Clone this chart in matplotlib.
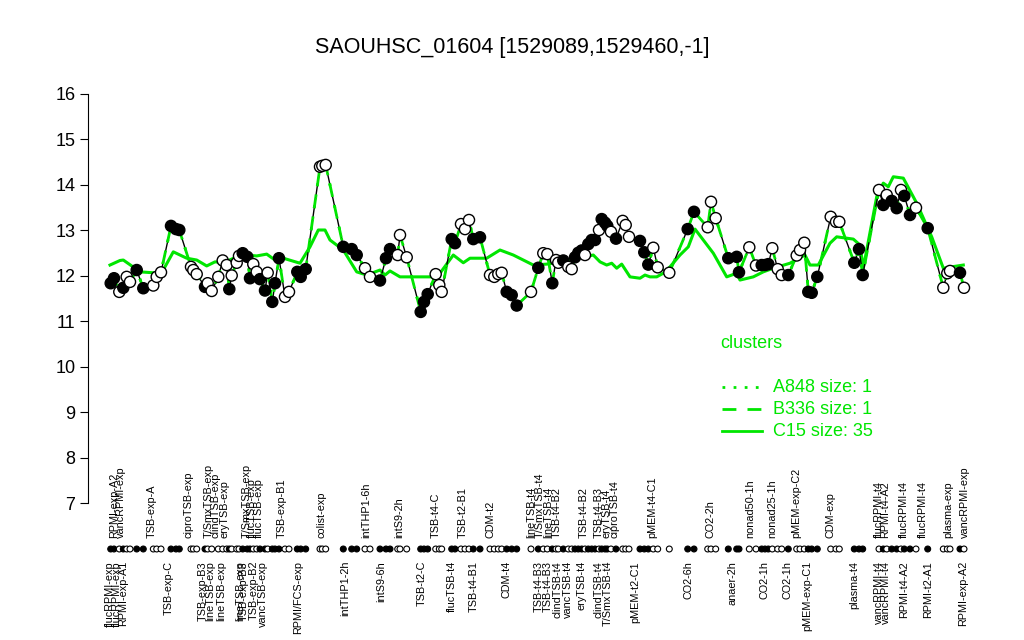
import matplotlib
matplotlib.use("Agg")
import matplotlib.pyplot as plt
from matplotlib.lines import Line2D

plt.rcParams['font.family'] = ['Liberation Sans', 'DejaVu Sans']

title = "SAOUHSC_01604 [1529089,1529460,-1]"

# sample positions along the x axis (condition order), expression values, filled marker flag
sample_pos = [110.7, 114.0, 119.3, 123.3, 126.7, 130.0, 136.7, 143.3, 153.3, 156.7,
              161.0, 171.0, 176.0, 179.3, 191.0, 193.3, 196.7, 205.0, 207.7, 211.7,
              218.3, 222.7, 226.7, 229.3, 231.7, 236.7, 239.0, 242.7, 247.3, 250.0,
              253.3, 256.7, 260.0, 265.0, 267.7, 272.3, 275.0, 279.0, 285.0, 289.0,
              297.3, 300.7, 305.7, 320.0, 322.3, 325.7, 343.3, 351.7, 356.7, 365.0,
              370.0, 380.0, 386.0, 390.0, 397.7, 400.0, 406.7, 420.7, 424.0, 427.7,
              435.7, 439.3, 441.7, 451.7, 455.0, 461.0, 465.0, 469.0, 473.3, 480.0,
              490.0, 494.3, 498.3, 501.7, 506.7, 511.7, 516.7, 531.0, 538.3, 543.3,
              547.3, 552.3, 556.0, 558.3, 563.3, 568.3, 571.7, 575.0, 578.3, 581.7,
              585.0, 588.3, 591.7, 595.0, 599.0, 601.7, 605.0, 607.3, 611.0, 616.0,
              622.7, 625.7, 629.0, 640.0, 644.3, 648.3, 653.3, 657.7, 669.3, 687.7,
              694.0, 707.7, 711.0, 715.7, 728.3, 736.7, 739.0, 749.3, 756.0, 761.7,
              765.0, 768.3, 772.3, 777.7, 781.7, 788.3, 796.7, 800.0, 804.3, 808.3,
              811.7, 817.3, 830.7, 836.0, 839.3, 854.3, 859.0, 862.7, 879.0, 883.3,
              886.7, 891.7, 896.7, 901.0, 904.3, 910.0, 916.0, 927.7, 943.3, 947.3,
              950.0, 960.0, 964.0]
values = [11.83, 11.94, 11.64, 11.73, 11.97, 11.86, 12.12, 11.72, 11.78, 11.97,
          12.07, 13.09, 13.02, 13.00, 12.19, 12.12, 12.03, 11.75, 11.83, 11.66,
          11.97, 12.33, 12.23, 11.70, 12.00, 12.28, 12.43, 12.49, 12.41, 11.94,
          12.25, 12.08, 11.92, 11.67, 12.06, 11.42, 11.83, 12.38, 11.53, 11.64,
          12.08, 11.97, 12.14, 14.39, 14.41, 14.43, 12.63, 12.58, 12.45, 12.16,
          11.97, 11.89, 12.38, 12.58, 12.45, 12.89, 12.40, 11.20, 11.42, 11.59,
          12.03, 11.79, 11.64, 12.80, 12.71, 13.13, 13.02, 13.22, 12.80, 12.84,
          12.01, 11.97, 12.03, 12.06, 11.64, 11.57, 11.34, 11.64, 12.17, 12.49,
          12.47, 11.83, 12.34, 12.28, 12.33, 12.19, 12.14, 12.40, 12.50, 12.55,
          12.45, 12.69, 12.78, 12.78, 13.00, 13.24, 13.16, 13.09, 12.96, 12.81,
          13.20, 13.11, 12.85, 12.76, 12.51, 12.24, 12.61, 12.18, 12.06, 13.02,
          13.40, 13.06, 13.62, 13.26, 12.38, 12.41, 12.07, 12.62, 12.22, 12.23,
          12.23, 12.25, 12.60, 12.14, 12.01, 12.01, 12.44, 12.56, 12.72, 11.64,
          11.62, 11.97, 13.29, 13.18, 13.18, 12.28, 12.58, 12.01, 13.88, 13.55,
          13.77, 13.64, 13.48, 13.88, 13.75, 13.33, 13.49, 13.04, 11.73, 12.05,
          12.10, 12.06, 11.73]
filled = [1, 1, 0, 1, 0, 0, 1, 1, 0, 0,
          0, 1, 1, 1, 0, 0, 0, 1, 0, 0,
          0, 0, 0, 1, 0, 0, 0, 1, 1, 1,
          0, 0, 1, 1, 0, 1, 1, 1, 0, 0,
          1, 1, 1, 0, 0, 0, 1, 1, 1, 0,
          0, 1, 1, 1, 0, 0, 0, 1, 1, 1,
          0, 0, 0, 1, 1, 0, 0, 0, 1, 1,
          0, 0, 0, 0, 1, 1, 1, 0, 1, 0,
          0, 1, 0, 0, 1, 0, 0, 1, 1, 1,
          0, 1, 1, 1, 0, 1, 1, 1, 0, 1,
          0, 0, 0, 1, 1, 1, 0, 0, 0, 1,
          1, 0, 0, 0, 1, 1, 1, 0, 0, 1,
          1, 1, 0, 0, 0, 1, 0, 0, 0, 1,
          1, 1, 0, 0, 0, 1, 1, 1, 0, 1,
          0, 1, 1, 0, 1, 1, 0, 1, 0, 0,
          0, 1, 0]

# cluster C15 mean profile
mean_pos = [110.0, 115.0, 120.0, 123.3, 131.7, 140.0, 153.3, 161.7, 173.3, 186.7,
            196.7, 206.7, 215.0, 223.3, 236.7, 246.7, 256.7, 266.7, 275.0, 283.3,
            300.0, 310.0, 318.3, 325.0, 330.0, 343.3, 356.7, 366.7, 380.0, 385.0,
            390.0, 400.0, 433.3, 440.0, 453.3, 463.3, 470.0, 486.7, 500.0, 513.3,
            533.3, 546.7, 560.0, 570.0, 593.3, 600.0, 606.7, 611.7, 616.7, 621.7,
            630.0, 640.0, 645.0, 650.0, 656.7, 663.3, 670.0, 680.0, 688.3, 695.0,
            713.3, 726.7, 736.7, 740.0, 753.3, 763.3, 773.3, 790.0, 805.0, 810.0,
            818.3, 830.0, 836.7, 853.3, 860.0, 863.3, 876.7, 883.3, 888.3, 893.3,
            903.3, 916.7, 931.7, 943.3, 951.7, 963.3]
mean_vals = [12.23, 12.28, 12.33, 12.34, 12.21, 12.08, 12.06, 12.06, 12.52, 12.38,
             12.34, 12.21, 12.30, 12.28, 12.41, 12.45, 12.43, 12.47, 12.34, 12.38,
             12.27, 12.63, 13.00, 13.00, 12.78, 12.56, 12.08, 12.01, 12.12, 12.01,
             12.10, 11.97, 11.97, 12.05, 12.45, 12.28, 12.38, 12.38, 12.56, 12.45,
             12.23, 12.25, 12.30, 12.34, 12.45, 12.30, 12.23, 12.27, 12.16, 12.25,
             11.97, 11.94, 12.01, 11.97, 11.97, 12.05, 12.19, 12.45, 12.63, 13.02,
             12.49, 11.97, 12.05, 11.90, 11.97, 12.08, 12.16, 12.27, 12.45, 12.23,
             12.23, 12.71, 12.85, 12.80, 12.67, 12.16, 13.73, 14.03, 13.95, 14.17,
             14.14, 13.59, 12.85, 12.16, 12.19, 12.23]

top_labels = ["RPMI-exp-A2", "vancRPMI-exp", "TSB-exp-A", "ciproTSB-exp", "T/SmxTSB-exp",
              "clindTSB-exp", "eryTSB-exp", "T/SmxTSB-exp", "flucTSB-exp", "flucTSB-exp",
              "TSB-exp-B1", "colist-exp", "intTHP1-6h", "intS9-2h", "TSB-t4-C",
              "TSB-t2-B1", "CDM-t2", "lineTSB-t4", "T/SmxTSB-t4", "lineTSB-t4",
              "TSB-t4-B2", "TSB-t4-B2", "TSB-t4-B3", "eryTSB-t4", "ciproTSB-t4",
              "pMEM-t4-C1", "CO2-2h", "nonad50-1h", "nonad25-1h", "pMEM-exp-C2",
              "CDM-exp", "flucRPMI-t4", "RPMI-t4-A2", "flucRPMI-t4", "flucRPMI-t4",
              "plasma-exp", "vancRPMI-exp"]
top_label_pos = [114.0, 120.7, 152.0, 189.0, 208.3,
                 215.5, 224.0, 246.7, 252.0, 259.0,
                 282.0, 321.7, 366.0, 399.3, 436.0,
                 462.7, 490.7, 531.7, 539.3, 548.3,
                 556.7, 583.3, 598.3, 606.7, 615.0,
                 652.0, 710.0, 750.0, 772.7, 796.7,
                 830.7, 879.0, 885.0, 904.0, 922.7,
                 948.3, 965.0]
bottom_labels = ["flucRPMI-exp", "flucRPMI-exp", "RPMI-exp-A1", "TSB-exp-C", "TSB-exp-B3",
                 "lineTSB-exp", "lineTSB-exp", "lineTSB-exp", "TSB-exp-B3", "TSB-exp-B2",
                 "vancTSB-exp", "RPMI/FCS-exp", "intTHP1-2h", "intS9-6h", "TSB-t2-C",
                 "flucTSB-t4", "TSB-t4-B1", "CDM-t4", "TSB-t4-B3", "TSB-t4-B3",
                 "clindTSB-t4", "vancTSB-t4", "eryTSB-t4", "clindTSB-t4", "T/SmxTSB-t4",
                 "pMEM-t2-C1", "CO2-6h", "anaer-2h", "CO2-1h", "CO2-1h",
                 "pMEM-exp-C1", "plasma-t4", "vancRPMI-t4", "vancRPMI-t4", "RPMI-t4-A2",
                 "RPMI-t2-A1", "RPMI-exp-A2"]
bottom_label_pos = [110.0, 116.7, 123.3, 169.0, 203.0,
                    210.0, 221.0, 240.0, 243.5, 253.3,
                    263.0, 298.0, 345.0, 381.0, 421.7,
                    451.7, 474.0, 507.0, 538.3, 547.5,
                    557.3, 568.3, 581.7, 598.0, 607.5,
                    635.0, 688.3, 732.7, 764.7, 787.5,
                    807.0, 854.0, 879.0, 885.5, 904.0,
                    927.7, 963.3]

yticks = [7, 8, 9, 10, 11, 12, 13, 14, 15, 16]

legend_title = "clusters"
legend_labels = ["A848 size: 1", "B336 size: 1", "C15 size: 35"]

GREEN = "#00e600"
W, H = 1024, 640

fig = plt.figure(figsize=(W / 100, H / 100), dpi=100)
ax = fig.add_axes([88 / W, 10 / H, 897 / W, 550 / H])
ax.set_xlim(88, 985)
ax.set_ylim(7 - 127 / 45.5, 7 + 423 / 45.5)

for s in ["top", "right", "bottom"]:
    ax.spines[s].set_visible(False)
ax.spines["left"].set_bounds(7, 16)
ax.spines["left"].set_linewidth(0.8)
ax.set_xticks([])
ax.set_yticks(yticks)
ax.set_yticklabels([str(t) for t in yticks], fontsize=13)
ax.tick_params(axis="y", length=6, width=0.8, pad=3)

# cluster mean
ax.plot(mean_pos, mean_vals, color=GREEN, lw=2.2, zorder=2)
# gene profile with size-1 cluster overlays
ax.plot(sample_pos, values, color="black", lw=1.0, zorder=3)
ax.plot(sample_pos, values, color=GREEN, lw=2.0, ls=(0, (4, 4)), zorder=4)
ax.plot(sample_pos, values, color=GREEN, lw=2.0, ls=(0, (1, 3)), zorder=4)

fc = ["black" if f else "white" for f in filled]
ax.scatter(sample_pos, values, s=64, facecolors=fc, edgecolors="black",
           linewidths=1.0, zorder=5)

# rug of conditions
rug_y = 7 - 46 / 45.5
ax.scatter(sample_pos, [rug_y] * len(sample_pos), s=18, facecolors=fc,
           edgecolors="black", linewidths=0.8, zorder=5, clip_on=False)

top_y = 7 - 35 / 45.5
bot_y = 7 - 58 / 45.5
for lab, x in zip(top_labels, top_label_pos):
    ax.text(x, top_y, lab, rotation=90, ha="center", va="bottom", fontsize=7.8)
for lab, x in zip(bottom_labels, bottom_label_pos):
    ax.text(x, bot_y, lab, rotation=90, ha="center", va="top", fontsize=7.8)

fig.text(512 / W, 1 - 47 / H, title, ha="center", va="center", fontsize=15.5)

# legend (drawn in figure pixel coordinates)
fig.text(720 / W, 1 - 343 / H, legend_title, color=GREEN, fontsize=13,
         ha="left", va="center")
styles = [(0, (1, 3)), (0, (5, 4)), "-"]
ys = [387, 409, 431]
for lab, st, yy in zip(legend_labels, styles, ys):
    fig.add_artist(Line2D([722 / W, 762 / W], [1 - yy / H, 1 - yy / H],
                          color=GREEN, lw=2.0, ls=st, transform=fig.transFigure))
    fig.text(773 / W, 1 - yy / H, lab, color=GREEN, fontsize=13,
             ha="left", va="center")

fig.savefig("out.png", dpi=100)
